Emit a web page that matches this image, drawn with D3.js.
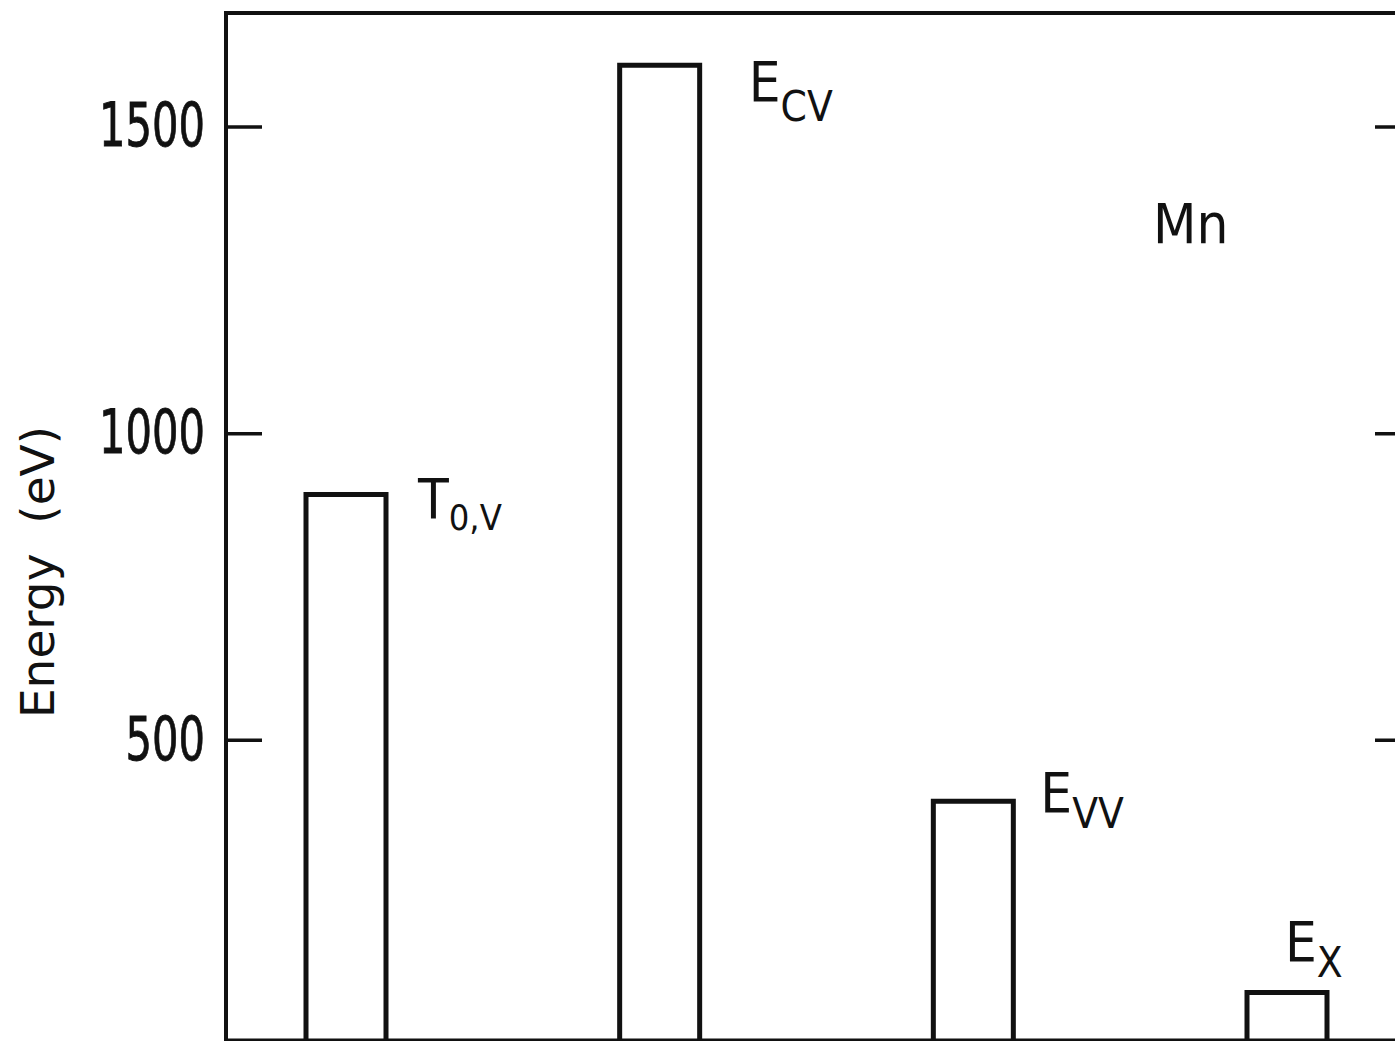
<!DOCTYPE html>
<html><head><meta charset="utf-8">
<script src="https://cdn.jsdelivr.net/npm/d3@7"></script>
<style>
html,body{margin:0;padding:0;background:#fff;}
svg{display:block;}
text{font-family:"DejaVu Sans Condensed","DejaVu Sans",sans-serif;fill:#111;}
</style></head>
<body>
<svg id="c" width="1395" height="1041"></svg>
<script>
const categories = ["T0V", "ECV", "EVV", "EX"];
const energies = [900, 1600, 400, 88];
const labelMain = ["T", "E", "E", "E"];
const labelSub = ["0,V", "CV", "VV", "X"];
const yTicks = [500, 1000, 1500];
const yMax = 1685;

(function () {
const svg = d3.select("#c");
const W = 1395, H = 1041;
const mLeft = 226, mRight = 1411, mTop = 13, bottomLine = 1040;
const y = d3.scaleLinear().domain([0, yMax]).range([1046.5, mTop]);
const x = d3.scalePoint().domain(categories).range([346, 1287]);
const bw = 80;

// frame
svg.append("path")
  .attr("d", `M${mLeft},${H+10} L${mLeft},${mTop} L${mRight},${mTop} L${mRight},${H+10}`)
  .attr("fill", "none").attr("stroke", "#111").attr("stroke-width", 4);
svg.append("line").attr("x1", mLeft).attr("x2", mRight).attr("y1", bottomLine).attr("y2", bottomLine)
  .attr("stroke", "#111").attr("stroke-width", 3);

// left axis
const gl = svg.append("g").attr("transform", `translate(${mLeft},0)`)
  .call(d3.axisLeft(y).tickValues(yTicks).tickSize(-36).tickPadding(21).tickFormat(d3.format("d")));
gl.select(".domain").remove();
gl.selectAll(".tick line").attr("stroke", "#111").attr("stroke-width", 3.5);
gl.selectAll(".tick text").attr("font-size", 60).attr("fill", "#111")
  .attr("stroke", "#111").attr("stroke-width", 0.8)
  .style("font-family", '"DejaVu Sans Condensed",sans-serif')
  .attr("textLength", d => String(d).length * 26.5)
  .attr("lengthAdjust", "spacingAndGlyphs");

// right axis
const gr = svg.append("g").attr("transform", `translate(${mRight},0)`)
  .call(d3.axisRight(y).tickValues(yTicks).tickSize(-36).tickFormat(""));
gr.select(".domain").remove();
gr.selectAll(".tick line").attr("stroke", "#111").attr("stroke-width", 3.5);

// bars (open at bottom)
svg.append("g").selectAll("path").data(categories).join("path")
  .attr("d", (c, i) => {
    const x0 = x(c) - bw / 2, x1 = x(c) + bw / 2;
    return `M${x0},${y(0)} L${x0},${y(energies[i])} L${x1},${y(energies[i])} L${x1},${y(0)}`;
  })
  .attr("fill", "none").attr("stroke", "#111").attr("stroke-width", 5);

// bar labels
const lblOff = [[72, 24], [89, 36], [67, 11], [-2, -32]];
const subSize = [36, 42, 42, 42];
const subDy = [12, 20, 16, 16];
categories.forEach((c, i) => {
  const t = svg.append("text")
    .attr("x", x(c) + lblOff[i][0])
    .attr("y", y(energies[i]) + lblOff[i][1])
    .attr("font-size", 56);
  t.append("tspan").text(labelMain[i]);
  t.append("tspan").attr("dy", subDy[i]).attr("font-size", subSize[i]).text(labelSub[i]);
});

// element label
svg.append("text").attr("x", 1153).attr("y", 243).attr("font-size", 56).text("Mn");

// y label
svg.append("text")
  .attr("transform", `translate(54,572) rotate(-90)`)
  .attr("text-anchor", "middle").attr("font-size", 47)
  .style("font-family", '"DejaVu Sans",sans-serif')
  .style("white-space", "pre")
  .text("Energy  (eV)");
})();
</script>
</body></html>
